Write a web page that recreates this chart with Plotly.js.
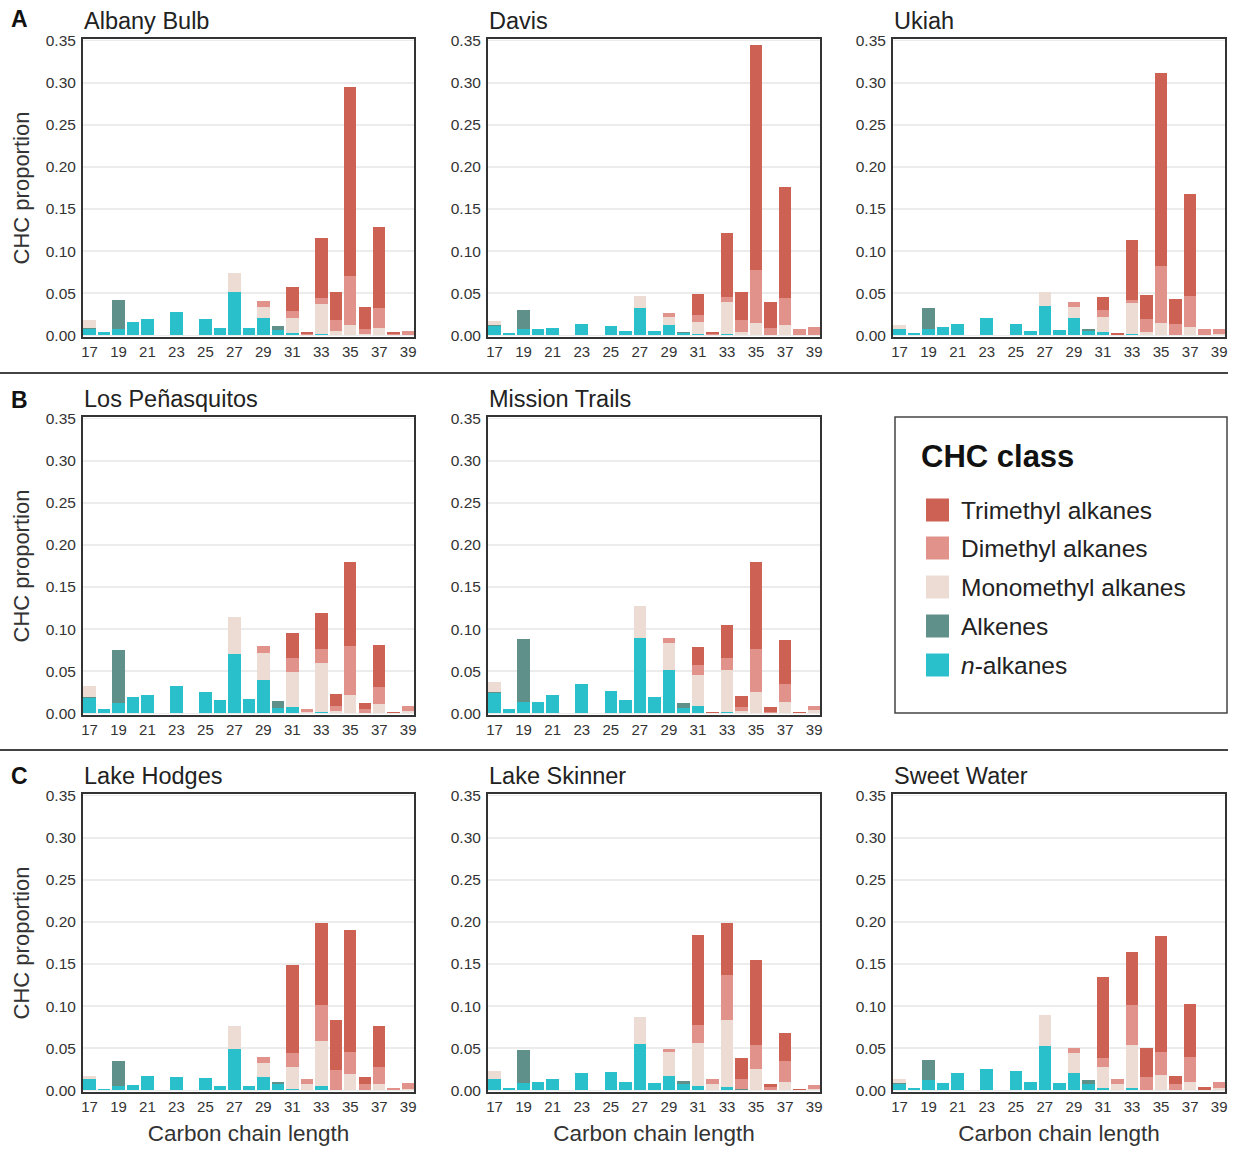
<!DOCTYPE html>
<html>
<head>
<meta charset="utf-8">
<script src="https://cdn.plot.ly/plotly-3.0.1.min.js"></script>
<style>html,body{margin:0;padding:0;background:#fff;}#chart{width:1238px;height:1150px;}</style>
</head>
<body>
<div id="chart"></div>
<script>
// Carbon chain length categories (17..39)
const carbon = [17,18,19,20,21,22,23,24,25,26,27,28,29,30,31,32,33,34,35,36,37,38,39];
const tickLabels = [17,19,21,23,25,27,29,31,33,35,37,39];
const classNames = ["n-alkanes","Alkenes","Monomethyl alkanes","Dimethyl alkanes","Trimethyl alkanes"];
const siteNames = ["Albany Bulb","Davis","Ukiah","Los Peñasquitos","Mission Trails","Lake Hodges","Lake Skinner","Sweet Water"];

// Albany Bulb
const albany_n    = [0.007,0.004,0.008,0.016,0.019,0,0.028,0,0.019,0.009,0.051,0.009,0.020,0.006,0.003,0,0.001,0,0,0,0,0,0];
const albany_alk  = [0.002,0,0.034,0,0,0,0,0,0,0,0,0,0,0.005,0,0,0,0,0,0,0,0,0];
const albany_mono = [0.009,0,0,0,0,0,0,0,0,0,0.023,0,0.014,0,0.018,0,0.036,0.005,0.012,0.001,0.009,0,0];
const albany_di   = [0,0,0,0,0,0,0,0,0,0,0,0,0.007,0,0.008,0.001,0.007,0.013,0.058,0.006,0.024,0.001,0.005];
const albany_tri  = [0,0,0,0,0,0,0,0,0,0,0,0,0,0,0.028,0.003,0.072,0.033,0.225,0.027,0.096,0.003,0];
// Davis
const davis_n    = [0.011,0.003,0.007,0.008,0.009,0,0.013,0,0.011,0.005,0.032,0.005,0.012,0.003,0.002,0,0.001,0,0,0,0,0,0];
const davis_alk  = [0.001,0,0.023,0,0,0,0,0,0,0,0,0,0,0.001,0,0,0,0,0,0,0,0,0];
const davis_mono = [0.005,0,0,0,0,0,0,0,0,0,0.015,0,0.010,0,0.014,0,0.039,0.004,0.015,0,0.012,0,0];
const davis_di   = [0,0,0,0,0,0,0,0,0,0,0,0,0.004,0,0.008,0.001,0.005,0.014,0.063,0.009,0.032,0.007,0.010];
const davis_tri  = [0,0,0,0,0,0,0,0,0,0,0,0,0,0,0.025,0.003,0.076,0.033,0.267,0.030,0.132,0,0];
// Ukiah
const ukiah_n    = [0.007,0.003,0.007,0.010,0.014,0,0.021,0,0.013,0.005,0.035,0.006,0.021,0.005,0.004,0,0.002,0,0,0,0,0,0];
const ukiah_alk  = [0,0,0.026,0,0,0,0,0,0,0,0,0,0,0.003,0,0,0,0,0,0,0,0,0];
const ukiah_mono = [0.005,0,0,0,0,0,0,0,0,0,0.017,0,0.013,0,0.018,0,0.036,0.004,0.015,0,0.010,0,0.002];
const ukiah_di   = [0,0,0,0,0,0,0,0,0,0,0,0,0.005,0,0.008,0,0.004,0.015,0.067,0.014,0.037,0.007,0.006];
const ukiah_tri  = [0,0,0,0,0,0,0,0,0,0,0,0,0,0,0.016,0.003,0.071,0.029,0.230,0.029,0.121,0,0];
// Los Peñasquitos
const penas_n    = [0.018,0.005,0.012,0.019,0.022,0,0.033,0,0.025,0.016,0.071,0.017,0.039,0.006,0.008,0,0.002,0,0,0,0,0,0];
const penas_alk  = [0.001,0,0.063,0,0,0,0,0,0,0,0,0,0,0.009,0,0,0,0,0,0,0,0,0];
const penas_mono = [0.013,0,0,0,0,0,0,0,0,0,0.044,0,0.033,0,0.041,0.002,0.058,0.003,0.022,0,0.011,0,0.003];
const penas_di   = [0,0,0,0,0,0,0,0,0,0,0,0,0.008,0,0.017,0.003,0.016,0.006,0.058,0.005,0.020,0,0.006];
const penas_tri  = [0,0,0,0,0,0,0,0,0,0,0,0,0,0,0.030,0,0.043,0.014,0.100,0.007,0.050,0.001,0];
// Mission Trails
const mission_n    = [0.024,0.005,0.014,0.014,0.022,0,0.035,0,0.026,0.016,0.089,0.019,0.052,0.006,0.009,0,0.002,0,0,0,0,0,0];
const mission_alk  = [0.001,0,0.074,0,0,0,0,0,0,0,0,0,0,0.006,0,0,0,0,0,0,0,0,0];
const mission_mono = [0.012,0,0,0,0,0,0,0,0,0,0.039,0,0.031,0,0.037,0,0.050,0.003,0.025,0,0.014,0,0.004];
const mission_di   = [0,0,0,0,0,0,0,0,0,0,0,0,0.006,0,0.011,0,0.014,0.004,0.052,0.002,0.021,0,0.005];
const mission_tri  = [0,0,0,0,0,0,0,0,0,0,0,0,0,0,0.022,0.002,0.039,0.014,0.103,0.006,0.052,0.001,0];
// Lake Hodges
const hodges_n    = [0.013,0.002,0.005,0.006,0.017,0,0.016,0,0.015,0.005,0.049,0.005,0.016,0.008,0.002,0,0.005,0,0,0,0,0,0];
const hodges_alk  = [0.001,0,0.030,0,0,0,0,0,0,0,0,0,0,0.002,0,0,0,0,0,0,0,0,0];
const hodges_mono = [0.003,0,0,0,0,0,0,0,0,0,0.028,0,0.017,0,0.026,0.007,0.053,0,0.019,0,0.007,0,0.002];
const hodges_di   = [0,0,0,0,0,0,0,0,0,0,0,0,0.007,0,0.016,0.006,0.043,0.024,0.027,0.007,0.021,0.003,0.007];
const hodges_tri  = [0,0,0,0,0,0,0,0,0,0,0,0,0,0,0.105,0,0.098,0.060,0.145,0.009,0.049,0,0];
// Lake Skinner
const skinner_n    = [0.013,0.003,0.009,0.010,0.014,0,0.020,0,0.022,0.010,0.055,0.009,0.017,0.008,0.005,0,0.004,0,0,0,0,0,0];
const skinner_alk  = [0,0,0.039,0,0,0,0,0,0,0,0,0,0,0.003,0,0,0,0.001,0,0,0,0,0];
const skinner_mono = [0.010,0,0,0,0,0,0,0,0,0,0.032,0,0.028,0,0.051,0.008,0.080,0,0.025,0,0.010,0,0.002];
const skinner_di   = [0,0,0,0,0,0,0,0,0,0,0,0,0.004,0,0.022,0.006,0.053,0.012,0.029,0.004,0.025,0,0.004];
const skinner_tri  = [0,0,0,0,0,0,0,0,0,0,0,0,0,0,0.107,0,0.062,0.025,0.101,0.004,0.033,0.001,0];
// Sweet Water
const sweet_n    = [0.007,0.003,0.012,0.009,0.020,0,0.025,0,0.023,0.010,0.053,0.009,0.020,0.007,0.003,0,0.003,0,0,0,0,0,0];
const sweet_alk  = [0.002,0,0.024,0,0,0,0,0,0,0,0,0,0,0.005,0,0,0,0,0,0,0,0,0];
const sweet_mono = [0.005,0,0,0,0,0,0,0,0,0,0.037,0,0.024,0,0.025,0.007,0.051,0,0.018,0,0.010,0,0.003];
const sweet_di   = [0,0,0,0,0,0,0,0,0,0,0,0,0.006,0,0.010,0.007,0.047,0.016,0.027,0.007,0.029,0,0.007];
const sweet_tri  = [0,0,0,0,0,0,0,0,0,0,0,0,0,0,0.097,0,0.063,0.034,0.138,0.010,0.064,0.004,0];

const sites = [
  [albany_n, albany_alk, albany_mono, albany_di, albany_tri],
  [davis_n, davis_alk, davis_mono, davis_di, davis_tri],
  [ukiah_n, ukiah_alk, ukiah_mono, ukiah_di, ukiah_tri],
  [penas_n, penas_alk, penas_mono, penas_di, penas_tri],
  [mission_n, mission_alk, mission_mono, mission_di, mission_tri],
  [hodges_n, hodges_alk, hodges_mono, hodges_di, hodges_tri],
  [skinner_n, skinner_alk, skinner_mono, skinner_di, skinner_tri],
  [sweet_n, sweet_alk, sweet_mono, sweet_di, sweet_tri]
];
const colors = ["#29c0cc","#5f9089","#eddcd3","#e0928b","#cc6154"];

const W = 1238, H = 1150;
const px = v => v / W;
const py = v => 1 - v / H;
// panel boxes in pixels [left, right, top, bottom]
const cols = [[83,414],[488,820],[893,1225]];
const rows = [[39,337],[417,715],[794,1092]];
const panelPos = [[0,0],[0,1],[0,2],[1,0],[1,1],[2,0],[2,1],[2,2]];

const font = "Liberation Sans, Arial, sans-serif";
const data = [];
const layout = {
  width: W, height: H,
  margin: {l:0, r:0, t:0, b:0},
  paper_bgcolor: "#fff", plot_bgcolor: "#fff",
  barmode: "stack", bargap: 0.14,
  showlegend: false,
  font: {family: font, color: "#222"},
  annotations: [], shapes: []
};

sites.forEach((layers, i) => {
  const k = i === 0 ? "" : String(i + 1);
  layers.forEach((vals, j) => {
    data.push({
      type: "bar", x: carbon, y: vals, name: classNames[j],
      marker: {color: colors[j], line: {width: 0}},
      xaxis: "x" + k, yaxis: "y" + k, hoverinfo: "x+y+name"
    });
  });
  const [r, c] = panelPos[i];
  const [l, rr] = cols[c];
  const [t, b] = rows[r];
  layout["xaxis" + k] = {
    domain: [px(l), px(rr)], anchor: "y" + k,
    range: [16.55, 39.4], tickvals: tickLabels, ticktext: tickLabels.map(String),
    ticks: "", ticklabelstandoff: 0,
    tickfont: {size: 15, color: "#333", family: font},
    showgrid: false, zeroline: false,
    showline: true, mirror: true, linecolor: "#333", linewidth: 2,
    fixedrange: true,
    title: r === 2 ? {text: "Carbon chain length", font: {size: 22.5, color: "#333", family: font}, standoff: 11} : {text: ""}
  };
  layout["yaxis" + k] = {
    domain: [py(b), py(t)], anchor: "x" + k,
    range: [-0.002, 0.352], tickvals: [0,0.05,0.1,0.15,0.2,0.25,0.3,0.35],
    tickformat: ".2f", ticks: "", ticklabelstandoff: 2,
    tickfont: {size: 15.5, color: "#333", family: font},
    showgrid: true, gridcolor: "#ececec", gridwidth: 1.5, zeroline: false,
    showline: true, mirror: true, linecolor: "#333", linewidth: 2,
    fixedrange: true,
    title: c === 0 ? {text: "CHC proportion", font: {size: 22, color: "#333", family: font}, standoff: 10} : {text: ""}
  };
  layout.annotations.push({
    xref: "paper", yref: "paper", x: px(l - 1), y: py(t - 18),
    xanchor: "left", yanchor: "middle", showarrow: false,
    text: siteNames[i], font: {size: 23.5, color: "#222", family: font}
  });
});

// Panel letters
[["A",19],["B",400],["C",776]].forEach(([s, y]) => {
  layout.annotations.push({
    xref: "paper", yref: "paper", x: px(9), y: py(y), xanchor: "left", yanchor: "middle",
    showarrow: false, text: "<b>" + s + "</b>", font: {size: 23, color: "#111", family: font}
  });
});

// Separators
[373, 750].forEach(y => {
  layout.shapes.push({type: "line", xref: "paper", yref: "paper",
    x0: px(0), x1: px(1228), y0: py(y), y1: py(y), line: {color: "#444", width: 2}});
});

// Legend box
layout.shapes.push({type: "rect", xref: "paper", yref: "paper",
  x0: px(895), x1: px(1227), y0: py(713), y1: py(417), line: {color: "#444", width: 1.5}, fillcolor: "rgba(0,0,0,0)"});
layout.annotations.push({xref: "paper", yref: "paper", x: px(919), y: py(456), xanchor: "left", yanchor: "middle",
  showarrow: false, text: "<b>CHC class</b>", font: {size: 31, color: "#111", family: font}});
const legendLabels = ["Trimethyl alkanes","Dimethyl alkanes","Monomethyl alkanes","Alkenes","<i>n</i>-alkanes"];
const legendColors = [colors[4], colors[3], colors[2], colors[1], colors[0]];
const legendY = [510, 548, 587, 626, 665];
legendLabels.forEach((lab, i) => {
  layout.shapes.push({type: "rect", xref: "paper", yref: "paper",
    x0: px(926), x1: px(949), y0: py(legendY[i] + 11.5), y1: py(legendY[i] - 11.5),
    line: {width: 0}, fillcolor: legendColors[i]});
  layout.annotations.push({xref: "paper", yref: "paper", x: px(959), y: py(legendY[i]), xanchor: "left", yanchor: "middle",
    showarrow: false, text: lab, font: {size: 24.5, color: "#222", family: font}});
});

Plotly.newPlot("chart", data, layout, {displayModeBar: false, staticPlot: true});
</script>
</body>
</html>
